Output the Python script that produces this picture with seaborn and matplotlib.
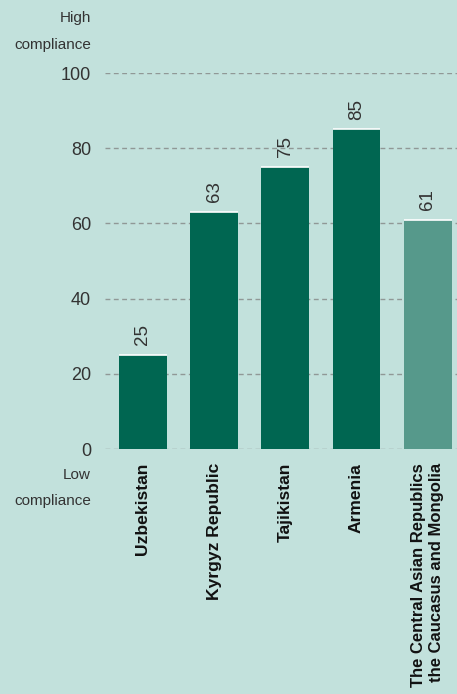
import matplotlib
matplotlib.use("Agg")
import matplotlib.pyplot as plt
import seaborn as sns
import pandas as pd

countries = ["Uzbekistan", "Kyrgyz Republic", "Tajikistan", "Armenia",
             "The Central Asian Republics\nthe Caucasus and Mongolia"]
scores = [25, 63, 75, 85, 61]
bar_colors = ["#006651", "#006651", "#006651", "#006651", "#56998b"]
y_ticks = [0, 20, 40, 60, 80, 100]

bg = "#c2e1dc"
sns.set_style("white")
plt.rcParams["font.family"] = ["Liberation Sans", "DejaVu Sans"]

df = pd.DataFrame({"country": countries, "score": scores})

fig = plt.figure(figsize=(4.57, 6.94), dpi=100, facecolor=bg)
ax = fig.add_axes([105 / 457, 245 / 694, 352 / 457, 376 / 694])
ax.set_facecolor(bg)

bar_w = 0.67
sns.barplot(data=df, x="country", y="score", hue="country", palette=bar_colors,
            width=bar_w, legend=False, ax=ax, saturation=1, zorder=3,
            edgecolor="none", linewidth=0)
# thin white rule on top of each bar
ax.hlines(scores, [i - bar_w / 2 for i in range(len(scores))],
          [i + bar_w / 2 for i in range(len(scores))],
          colors="white", linewidth=1.2, zorder=4)

ax.set_ylim(0, 100)
ax.set_xlim(-0.53, 4.41)
ax.set_yticks(y_ticks)
ax.set_yticklabels([str(t) for t in y_ticks], fontsize=13, color="#333333")
ax.yaxis.grid(True, linestyle=(0, (3.5, 2.5)), color="#909896", linewidth=1, zorder=0)
ax.xaxis.grid(False)
for s in ax.spines.values():
    s.set_visible(False)
ax.tick_params(axis="y", length=0, pad=10)
ax.tick_params(axis="x", length=0, pad=10)
ax.set_xlabel("")
ax.set_ylabel("")
ax.set_xticks(range(len(countries)))
ax.set_xticklabels(countries, rotation=90, fontsize=12.6, fontweight="bold",
                   color="#111111", va="top", ha="center", linespacing=1.25,
                   multialignment="right")
# the long regional label is a bit smaller so it fits the figure
ax.get_xticklabels()[-1].set_fontsize(12)

for i, v in enumerate(scores):
    ax.text(i, v + 2.6, str(v), rotation=90, ha="center", va="bottom",
            fontsize=13.5, color="#333333", clip_on=False)

fig.text(91 / 457, 1 - 18 / 694, "High", ha="right", va="center", fontsize=11, color="#333333")
fig.text(91 / 457, 1 - 45 / 694, "compliance", ha="right", va="center", fontsize=11, color="#333333")
fig.text(91 / 457, 1 - 475 / 694, "Low", ha="right", va="center", fontsize=11, color="#333333")
fig.text(91 / 457, 1 - 501 / 694, "compliance", ha="right", va="center", fontsize=11, color="#333333")

fig.savefig("out.png", dpi=100, facecolor=bg)
